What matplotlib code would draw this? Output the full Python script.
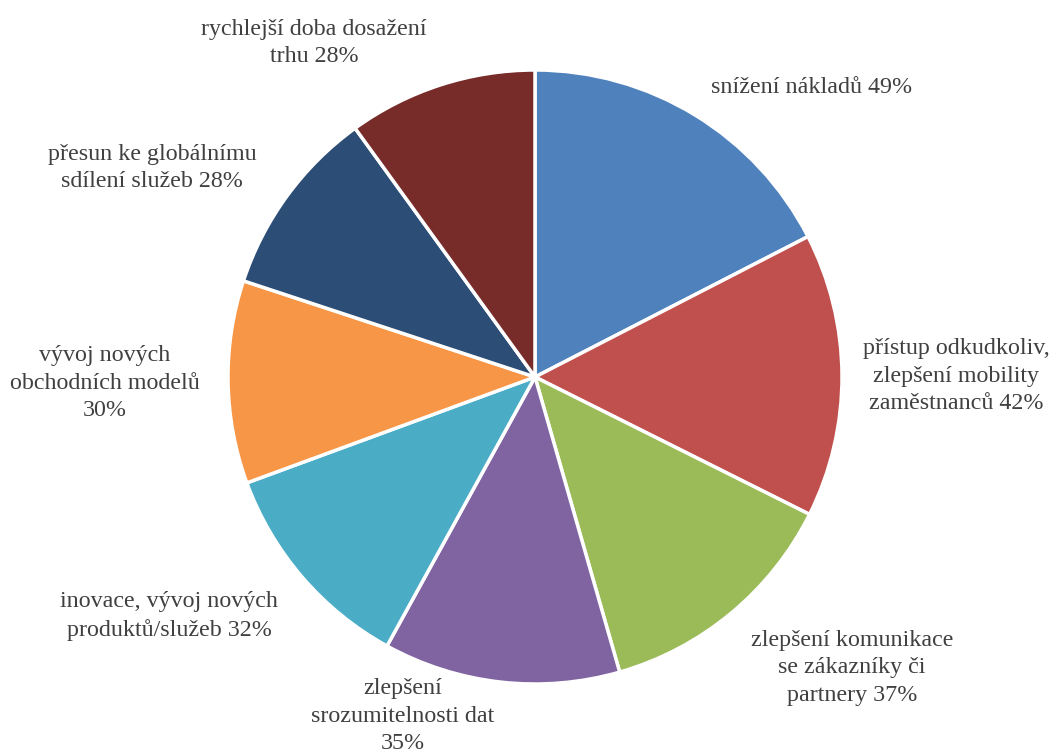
import matplotlib.pyplot as plt

plt.rcParams["font.family"] = ["Liberation Serif", "DejaVu Serif"]

# Data entry
categories = [
    "snížení nákladů",
    "přístup odkudkoliv,\nzlepšení mobility\nzaměstnanců",
    "zlepšení komunikace\nse zákazníky či\npartnery",
    "zlepšení\nsrozumitelnosti dat\n",
    "inovace, vývoj nových\nproduktů/služeb",
    "vývoj nových\nobchodních modelů\n",
    "přesun ke globálnímu\nsdílení služeb",
    "rychlejší doba dosažení\ntrhu",
]
values = [49, 42, 37, 35, 32, 30, 28, 28]

colors = ["#4F81BD", "#C0504D", "#9BBB59", "#8064A2",
          "#4BACC6", "#F79646", "#2C4D75", "#772C2A"]

# label centres in pixels (from top-left of the image)
label_pos = [(812, 87), (956, 376), (852, 668), (403, 716),
             (169, 616), (105, 383), (152, 168), (314, 43)]

W, H = 1057, 753
fig = plt.figure(figsize=(W / 100, H / 100), dpi=100)
ax = fig.add_axes([0, 0, 1, 1])

ax.pie(
    values,
    colors=colors,
    startangle=90,
    counterclock=False,
    center=(535, H - 377),
    radius=307,
    wedgeprops=dict(edgecolor="white", linewidth=2.5),
    frame=True,
)
ax.set_xlim(0, W)
ax.set_ylim(0, H)
ax.set_aspect("equal")
ax.axis("off")

for cat, val, (x, y) in zip(categories, values, label_pos):
    sep = "" if cat.endswith("\n") else " "
    ax.text(x, H - y, f"{cat}{sep}{val}%", ha="center", va="center",
            multialignment="center", fontsize=17.3, color="#404040",
            linespacing=1.4)

fig.savefig("out.png", dpi=100)
